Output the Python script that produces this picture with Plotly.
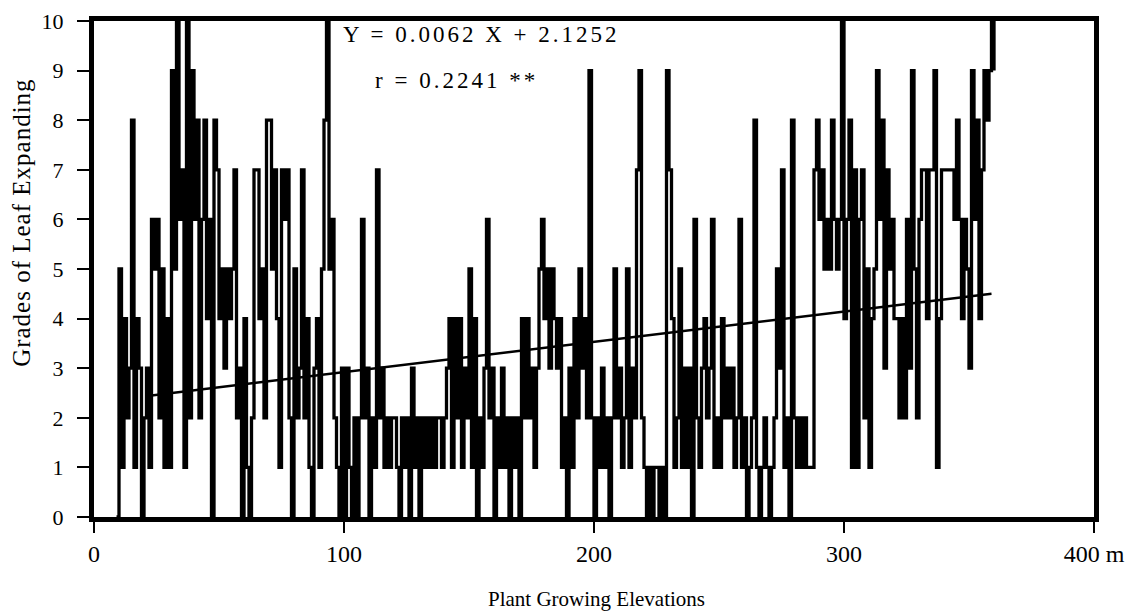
import plotly.graph_objects as go

# Elevation (m) and grade of leaf expanding (step series)
elev_start = 9
grades = [
    0, 5, 1, 4, 2, 3, 8, 1, 4, 3,          # 9-18
    0, 2, 3, 1, 6, 5, 6, 2, 5, 1,          # 19-28
    4, 1, 9, 5, 10, 6, 7, 1, 10, 2,        # 29-38
    9, 6, 8, 2, 6, 8, 4, 6, 0, 8,          # 39-48
    7, 4, 5, 3, 5, 4, 5, 7, 2, 3,          # 49-58
    0, 4, 1, 0, 2, 7, 7, 4, 5, 2,          # 59-68
    8, 8, 5, 7, 4, 1, 7, 6, 7, 2,          # 69-78
    0, 5, 2, 3, 7, 2, 4, 1, 0, 3,          # 79-88
    4, 1, 5, 8, 10, 5, 6, 2, 1, 0,         # 89-98
    3, 0, 3, 1, 0, 2, 0, 2, 6, 2,          # 99-108
    3, 0, 2, 1, 7, 2, 3, 1, 2, 1,          # 109-118
    2, 2, 1, 0, 2, 1, 2, 0, 3, 1,          # 119-128
    2, 0, 2, 1, 2, 1, 2, 1, 2, 2,          # 129-138
    1, 2, 3, 4, 1, 4, 2, 4, 1, 3,          # 139-148
    2, 5, 1, 4, 0, 2, 1, 3, 6, 2,          # 149-158
    3, 0, 2, 1, 3, 1, 2, 0, 2, 1,          # 159-168
    2, 0, 4, 2, 4, 2, 3, 1, 3, 5,          # 169-178
    6, 4, 5, 3, 5, 4, 3, 4, 1, 2,          # 179-188
    0, 3, 1, 4, 2, 5, 3, 4, 2, 9,          # 189-198
    2, 0, 2, 1, 3, 1, 2, 0, 2, 5,          # 199-208
    2, 3, 1, 2, 5, 1, 3, 2, 7, 9,          # 209-218
    2, 1, 0, 1, 0, 1, 1, 0, 1, 0,          # 219-228
    9, 7, 4, 1, 2, 5, 1, 3, 1, 3,          # 229-238
    0, 6, 2, 1, 3, 4, 2, 3, 6, 1,          # 239-248
    2, 1, 4, 2, 3, 2, 3, 1, 2, 6,          # 249-258
    1, 2, 0, 1, 2, 8, 1, 0, 1, 2,          # 259-268
    1, 0, 1, 2, 5, 3, 7, 1, 2, 0,          # 269-278
    8, 2, 1, 2, 1, 2, 1, 1, 1, 7,          # 279-288
    8, 6, 7, 5, 6, 5, 8, 6, 5, 6,          # 289-298
    10, 4, 6, 8, 1, 7, 1, 6, 7, 2,         # 299-308
    5, 1, 4, 5, 9, 6, 8, 3, 7, 5,          # 309-318
    6, 4, 4, 2, 4, 2, 6, 3, 9, 5,          # 319-328
    2, 6, 7, 7, 4, 7, 7, 9, 1, 4,          # 329-338
    7, 7, 7, 7, 7, 6, 8, 6, 4, 6,          # 339-348
    5, 3, 9, 6, 8, 4, 7, 9, 8, 9,          # 349-358
    10, 9,                                  # 359-360
]
elevations = [elev_start + i for i in range(len(grades))]

# Regression line as drawn in the picture
reg_x = [23, 359]
reg_y = [2.45, 4.5]

x_ticks = [0, 100, 200, 300, 400]
x_ticktext = ["0", "100", "200", "300", "400 m"]
y_ticks = list(range(0, 11))

serif = "Liberation Serif, Times New Roman, serif"


def spaced(text, px):
    return f'<span style="letter-spacing:{px}px">{text}</span>'


fig = go.Figure()
fig.add_trace(go.Scatter(
    x=elevations, y=grades, mode="lines",
    line=dict(color="black", width=3.3, shape="hv"),
    showlegend=False, hoverinfo="skip",
))
fig.add_trace(go.Scatter(
    x=reg_x, y=reg_y, mode="lines",
    line=dict(color="black", width=2.5),
    showlegend=False, hoverinfo="skip",
))

fig.add_annotation(x=155, y=9.72, text=spaced("Y = 0.0062 X + 2.1252", 3),
                   showarrow=False, xanchor="center", yanchor="middle",
                   font=dict(family=serif, size=23, color="black"))
fig.add_annotation(x=145, y=8.81, text=spaced("r = 0.2241 **", 3),
                   showarrow=False, xanchor="center", yanchor="middle",
                   font=dict(family=serif, size=23, color="black"))

# axis titles placed as paper annotations
fig.add_annotation(xref="paper", yref="paper", x=-0.072, y=0.593,
                   text=spaced("Grades of Leaf Expanding", 1), textangle=-90,
                   showarrow=False, xanchor="center", yanchor="middle",
                   font=dict(family=serif, size=25, color="black"))
fig.add_annotation(xref="paper", yref="paper", x=0.502, y=-0.166,
                   text="Plant Growing Elevations", showarrow=False,
                   xanchor="center", yanchor="middle",
                   font=dict(family=serif, size=21, color="black"))

fig.update_layout(
    width=1144, height=612,
    margin=dict(l=86, r=58, t=13, b=103),
    paper_bgcolor="white", plot_bgcolor="white",
    font=dict(family=serif, color="black"),
)
fig.update_xaxes(
    range=[0, 400], tickvals=x_ticks, ticktext=x_ticktext,
    showgrid=False, zeroline=False, automargin=False,
    showline=True, linecolor="black", linewidth=5, mirror=True,
    ticks="outside", ticklen=11, tickwidth=2, tickcolor="black",
    ticklabeloverflow="allow",
    tickfont=dict(family=serif, size=24, color="black"),
)
fig.update_yaxes(
    range=[0, 10], tickvals=y_ticks,
    showgrid=False, zeroline=False, automargin=False,
    showline=True, linecolor="black", linewidth=5, mirror=True,
    ticks="outside", ticklen=12, tickwidth=2, tickcolor="black",
    ticklabeloverflow="allow", ticklabelstandoff=9,
    tickfont=dict(family=serif, size=22, color="black"),
)

fig.write_html("out.html")
